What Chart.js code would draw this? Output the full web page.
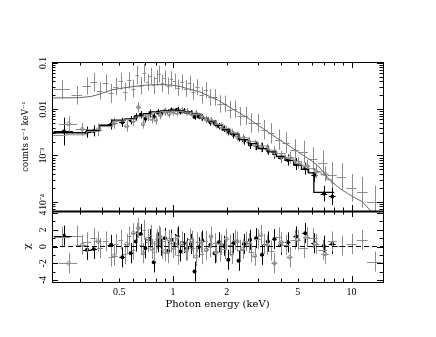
<!DOCTYPE html>
<html>
<head>
<meta charset="utf-8">
<script src="https://cdn.jsdelivr.net/npm/chart.js@4.4.1/dist/chart.umd.min.js"></script>
<style>
html, body { margin: 0; padding: 0; background: #fff; }
#wrap { position: relative; width: 436px; height: 337px; }
#wrap canvas { position: absolute; left: 0; top: 0; }
</style>
</head>
<body>
<div id="wrap">
  <canvas id="specChart" width="436" height="337"></canvas>
  <canvas id="residChart" width="436" height="337"></canvas>
</div>
<script>
// energy range (keV)
const xMin = 0.21, xMax = 15;

// upper spectrum (grey crosses)
const upE = [0.24,0.29,0.33,0.36,0.39,0.42,0.45,0.48,0.51,0.54,0.57,0.60,0.63,0.66,0.69,0.72,0.75,0.78,0.81,0.84,0.87,0.90,0.94,0.98,1.02,1.07,1.12,1.18,1.24,1.30,1.37,1.45,1.53,1.62,1.72,1.83,1.95,2.08,2.22,2.38,2.55,2.75,2.98,3.25,3.55,3.9,4.3,4.8,5.4,6.1,6.9,7.8,8.8,10.0,11.5,13.5];
const upFlux = [0.027,0.020,0.032,0.038,0.025,0.036,0.022,0.031,0.040,0.024,0.042,0.028,0.055,0.032,0.060,0.038,0.052,0.033,0.048,0.058,0.036,0.047,0.032,0.045,0.040,0.029,0.038,0.028,0.036,0.024,0.030,0.020,0.026,0.018,0.018,0.013,0.013,0.0098,0.010,0.0070,0.0072,0.0050,0.0050,0.0036,0.0030,0.0022,0.0019,0.0013,0.0012,0.00085,0.0007,0.00038,0.00035,0.0002,0.00016,0.0001];
const upDE = [0.025,0.02,0.018,0.015,0.015,0.015,0.015,0.015,0.015,0.015,0.015,0.015,0.015,0.015,0.015,0.015,0.015,0.015,0.015,0.015,0.015,0.018,0.02,0.02,0.022,0.025,0.027,0.03,0.03,0.033,0.035,0.04,0.042,0.045,0.05,0.055,0.06,0.065,0.07,0.08,0.085,0.1,0.12,0.13,0.15,0.17,0.2,0.25,0.3,0.35,0.4,0.45,0.5,0.65,0.8,1.3];
const upDex = [0.2,0.2,0.19,0.2,0.19,0.2,0.21,0.19,0.18,0.2,0.18,0.19,0.2,0.19,0.2,0.18,0.18,0.19,0.17,0.18,0.19,0.17,0.18,0.17,0.17,0.18,0.17,0.18,0.17,0.18,0.17,0.18,0.17,0.18,0.18,0.19,0.18,0.19,0.19,0.2,0.2,0.21,0.2,0.21,0.22,0.22,0.23,0.24,0.24,0.25,0.26,0.28,0.29,0.3,0.33,0.35];
const upChi = [1.1,1.3,0.5,1.0,-0.2,0.6,-1.2,0.3,0.8,-0.9,1.2,-0.4,1.6,0.2,2.0,0.5,1.4,-0.6,0.9,1.3,-0.3,0.7,-0.8,0.4,0.1,-1.0,0.6,-0.5,0.9,-0.2,0.5,-0.9,0.7,-0.1,0.4,-0.6,-0.3,0.2,0.8,-0.4,0.6,-0.7,0.9,0.3,-0.5,1.1,0.2,0.8,-0.2,1.0,-0.4,0.6,0.1,0.3,0.8,-1.8];

// lower spectrum, black dots
const lbE = [0.245,0.33,0.36,0.45,0.52,0.58,0.62,0.66,0.70,0.74,0.78,0.82,0.86,0.90,0.94,0.98,1.02,1.06,1.10,1.15,1.20,1.26,1.32,1.39,1.46,1.54,1.62,1.71,1.81,1.92,2.04,2.18,2.33,2.5,2.7,2.92,3.15,3.4,3.7,4.0,4.4,4.9,5.5,6.2,7.0,7.8];
const lbFlux = [0.0033,0.0032,0.0034,0.0047,0.0052,0.0058,0.0068,0.0076,0.0062,0.0082,0.0070,0.0085,0.0080,0.0090,0.0086,0.0095,0.0090,0.0098,0.0088,0.0092,0.0085,0.0083,0.0068,0.0070,0.0066,0.0060,0.0052,0.0049,0.0043,0.0038,0.0033,0.0028,0.0024,0.0021,0.0017,0.0016,0.0015,0.0013,0.0011,0.0009,0.0008,0.00065,0.00052,0.00038,0.00015,0.00013];
const lbDE = [0.03,0.02,0.015,0.02,0.02,0.015,0.012,0.012,0.012,0.012,0.012,0.012,0.012,0.012,0.012,0.012,0.012,0.012,0.015,0.015,0.015,0.018,0.02,0.02,0.02,0.025,0.025,0.03,0.03,0.035,0.04,0.045,0.05,0.06,0.06,0.07,0.08,0.09,0.1,0.12,0.15,0.18,0.2,0.25,0.3,0.35];
const lbDex = [0.3,0.12,0.12,0.11,0.1,0.09,0.08,0.08,0.08,0.08,0.07,0.07,0.07,0.07,0.06,0.06,0.06,0.06,0.06,0.06,0.06,0.06,0.06,0.06,0.07,0.07,0.07,0.07,0.07,0.07,0.08,0.08,0.08,0.09,0.09,0.09,0.1,0.1,0.11,0.11,0.12,0.13,0.13,0.15,0.17,0.19];
const lbChi = [1.3,-0.4,-0.3,0.2,-1.3,-0.8,0.6,1.5,-0.2,0.9,-1.9,0.5,0.1,1.0,-0.5,0.8,0.3,1.2,-0.6,0.4,-0.2,0.3,-3.0,-0.1,0.7,-0.4,0.2,-0.8,0.5,0.1,-1.6,0.4,-1.7,0.3,0.8,1.0,-1.0,0.6,0.9,0.2,0.5,1.2,1.6,0.4,0.1,0.3];

// lower spectrum, grey circles
const lgE = [0.26,0.31,0.38,0.47,0.55,0.60,0.64,0.68,0.72,0.76,0.80,0.85,0.90,0.95,1.00,1.05,1.12,1.19,1.27,1.35,1.44,1.53,1.63,1.74,1.86,1.99,2.13,2.29,2.46,2.65,2.87,3.1,3.38,3.7,4.05,4.5,5.0,5.6,6.3,7.1];
const lgFlux = [0.0048,0.0037,0.0036,0.0050,0.0043,0.0056,0.0110,0.0048,0.0070,0.0062,0.0058,0.0074,0.0086,0.0079,0.0088,0.0084,0.0095,0.0090,0.0079,0.0081,0.0068,0.0061,0.0057,0.0047,0.0042,0.0036,0.0031,0.0026,0.0023,0.0020,0.0017,0.0015,0.0014,0.0012,0.00095,0.0009,0.0007,0.00058,0.00045,0.0004];
const lgDE = [0.03,0.025,0.02,0.02,0.02,0.015,0.015,0.015,0.015,0.015,0.015,0.017,0.018,0.02,0.02,0.022,0.025,0.028,0.03,0.03,0.035,0.035,0.04,0.045,0.05,0.055,0.06,0.065,0.07,0.08,0.09,0.1,0.12,0.14,0.16,0.18,0.2,0.25,0.3,0.35];
const lgDex = [0.17,0.14,0.14,0.12,0.12,0.11,0.11,0.1,0.1,0.1,0.09,0.09,0.08,0.08,0.08,0.08,0.08,0.08,0.08,0.08,0.08,0.08,0.08,0.09,0.09,0.09,0.09,0.1,0.1,0.1,0.11,0.11,0.11,0.12,0.12,0.13,0.13,0.14,0.15,0.16];
const lgChi = [-2.0,0.2,0.6,-1.1,0.3,1.6,2.2,-0.8,0.9,-0.3,0.4,1.1,-0.6,0.8,-0.2,1.0,0.3,-0.5,0.7,-1.2,0.5,-0.4,1.2,-0.7,0.2,0.9,-0.9,0.6,-0.3,0.4,-1.1,1.4,0.2,-2.0,0.5,-1.3,0.8,1.1,0.3,-0.9];
const chiErr = 1.2;

// folded models
const upModelE = [0.21,0.3,0.35,0.4,0.45,0.5,0.6,0.7,0.8,0.9,1.0,1.1,1.2,1.4,1.6,1.8,2.0,2.3,2.6,3.0,3.5,4.0,4.5,5.0,5.5,6.0,6.5,7.0,7.5,8.5,9.5,10.5,11.5,12.5,14];
const upModelF = [0.0175,0.0178,0.019,0.022,0.026,0.028,0.031,0.033,0.034,0.034,0.033,0.031,0.028,0.024,0.019,0.0155,0.012,0.0088,0.0066,0.0045,0.003,0.0021,0.0016,0.0012,0.00095,0.00075,0.0006,0.00042,0.0003,0.0002,0.00015,0.00012,0.0001,0.00007,0.00004];
const lbModelE = [0.21,0.3,0.36,0.42,0.5,0.58,0.65,0.72,0.8,0.9,1.0,1.1,1.2,1.35,1.5,1.65,1.8,2.0,2.2,2.5,2.8,3.2,3.6,4.0,4.5,5.0,5.5,6.0,6.3,7.0,8.0];
const lbModelF = [0.0031,0.0031,0.0035,0.0045,0.0058,0.0062,0.0072,0.008,0.0088,0.0092,0.0094,0.0093,0.0088,0.0078,0.0066,0.0055,0.0045,0.0036,0.0029,0.0022,0.0018,0.0014,0.0012,0.00095,0.00078,0.00062,0.0005,0.00042,0.00016,0.00016,0.00016];
const lgModelE = [0.21,0.3,0.36,0.42,0.5,0.58,0.65,0.72,0.8,0.9,1.0,1.1,1.2,1.35,1.5,1.65,1.8,2.0,2.2,2.5,2.8,3.2,3.6,4.0,4.5,5.0,5.5,6.0,6.5,7.0,7.5,8.0];
const lgModelF = [0.0027,0.0028,0.0033,0.0042,0.0055,0.006,0.0068,0.0076,0.0084,0.0089,0.0091,0.009,0.0086,0.0077,0.0066,0.0056,0.0047,0.0038,0.0031,0.0024,0.002,0.0016,0.0013,0.0011,0.0009,0.00075,0.00062,0.00052,0.00045,0.00038,0.0003,0.00025];

// axis labels
const xTickLabels = [0.5, 1, 2, 5, 10];
const specTickLabels = [[0.1, '0.1'], [0.01, '0.01'], [1e-3, '10\u207B\u00B3'], [1e-4, '10\u207B\u2074']];
const chiTickLabels = [[4, '4'], [2, '2'], [0, '0'], [-2, '-2'], [-4, '-4']];

const GREY = '#8c8c8c';
const tickFont = '9.5px "Liberation Serif"';

function pts(xs, ys) { return xs.map((x, i) => ({ x: x, y: ys[i] })); }

// log-axis tick positions (1..9 x 10^n) inside a range
function logTickVals(lo, hi) {
  const out = [];
  for (let e = Math.floor(Math.log10(lo)); e <= Math.ceil(Math.log10(hi)); e++) {
    for (let m = 1; m < 10; m++) {
      const v = m * Math.pow(10, e);
      if (v >= lo && v <= hi) out.push([v, m === 1]);
    }
  }
  return out;
}

// error bars drawn with each dataset's own scales
const errorBars = {
  id: 'errorBars',
  afterDatasetDraw(chart, args) {
    const ds = chart.data.datasets[args.index];
    if (!ds.errX) return;
    const xs = chart.scales.x, ys = chart.scales.y, a = chart.chartArea, ctx = chart.ctx;
    ctx.save();
    ctx.beginPath();
    ctx.rect(a.left, a.top, a.right - a.left, a.bottom - a.top);
    ctx.clip();
    ctx.strokeStyle = ds.borderColor;
    ctx.lineWidth = 1;
    ctx.beginPath();
    ds.data.forEach((p, i) => {
      const px = Math.round(xs.getPixelForValue(p.x)) + 0.5;
      const py = Math.round(ys.getPixelForValue(p.y)) + 0.5;
      const x0 = xs.getPixelForValue(p.x - ds.errX[i]);
      const x1 = xs.getPixelForValue(p.x + ds.errX[i]);
      let y0, y1;
      if (ds.errDex) {
        y0 = ys.getPixelForValue(p.y / Math.pow(10, ds.errDex[i]));
        y1 = ys.getPixelForValue(p.y * Math.pow(10, ds.errDex[i]));
      } else {
        y0 = ys.getPixelForValue(p.y - chiErr);
        y1 = ys.getPixelForValue(p.y + chiErr);
      }
      ctx.moveTo(x0, py); ctx.lineTo(x1, py);
      ctx.moveTo(px, y0); ctx.lineTo(px, y1);
    });
    ctx.stroke();
    ctx.restore();
  }
};

// box, inward ticks on all four sides, rotated y labels
function frameAxes(yTicks, yLabels, thickBottom) {
  return {
    id: 'frameAxes',
    afterDraw(chart) {
      const {ctx, chartArea: a} = chart;
      const xs = chart.scales.x, ys = chart.scales.y;
      ctx.save();
      ctx.strokeStyle = '#000';
      ctx.lineWidth = 1;
      ctx.strokeRect(a.left + 0.5, a.top + 0.5, a.right - a.left, a.bottom - a.top);
      if (thickBottom) {
        ctx.lineWidth = 2;
        ctx.beginPath();
        ctx.moveTo(a.left, a.bottom + 0.5); ctx.lineTo(a.right + 1, a.bottom + 0.5);
        ctx.stroke();
        ctx.lineWidth = 1;
      }
      ctx.beginPath();
      logTickVals(xMin, xMax).forEach(([v, major]) => {
        const px = Math.round(xs.getPixelForValue(v)) + 0.5;
        const len = major ? 6 : 3.5;
        ctx.moveTo(px, a.top); ctx.lineTo(px, a.top + len);
        ctx.moveTo(px, a.bottom); ctx.lineTo(px, a.bottom - len);
      });
      yTicks.forEach(([v, major]) => {
        const py = Math.round(ys.getPixelForValue(v)) + 0.5;
        const len = major ? 6 : 3.5;
        ctx.moveTo(a.left, py); ctx.lineTo(a.left + len, py);
        ctx.moveTo(a.right, py); ctx.lineTo(a.right - len, py);
      });
      ctx.stroke();
      ctx.fillStyle = '#000';
      ctx.font = tickFont;
      ctx.textAlign = 'center';
      ctx.textBaseline = 'middle';
      yLabels.forEach(([v, txt]) => {
        ctx.save();
        ctx.translate(a.left - 9, ys.getPixelForValue(v));
        ctx.rotate(-Math.PI / 2);
        ctx.fillText(txt, 0, 0);
        ctx.restore();
      });
      ctx.restore();
    }
  };
}

function dataSets(fluxOrChi) {
  const sets = [];
  const up = fluxOrChi === 'flux';
  sets.push({ type: 'scatter', data: pts(upE, up ? upFlux : upChi), borderColor: GREY, pointRadius: 0,
    errX: upDE, errDex: up ? upDex : null });
  sets.push({ type: 'scatter', data: pts(lgE, up ? lgFlux : lgChi), borderColor: GREY, backgroundColor: '#fff',
    pointRadius: 1.8, pointBorderWidth: 1, errX: lgDE, errDex: up ? lgDex : null });
  sets.push({ type: 'scatter', data: pts(lbE, up ? lbFlux : lbChi), borderColor: '#000', backgroundColor: '#000',
    pointRadius: 2, pointBorderWidth: 0, errX: lbDE, errDex: up ? lbDex : null });
  return sets;
}

Chart.defaults.font.family = '"DejaVu Serif", serif';
Chart.defaults.color = '#000';

const specDatasets = [
  { type: 'line', data: pts(upModelE, upModelF), borderColor: '#666', borderWidth: 1, pointRadius: 0, tension: 0 },
  { type: 'line', data: pts(lgModelE, lgModelF), borderColor: GREY, borderWidth: 1, pointRadius: 0, stepped: 'middle' },
  { type: 'line', data: pts(lbModelE, lbModelF), borderColor: '#000', borderWidth: 1.3, pointRadius: 0, stepped: 'middle' }
].concat(dataSets('flux'));

new Chart(document.getElementById('specChart'), {
  data: { datasets: specDatasets },
  options: {
    responsive: false,
    animation: false,
    events: [],
    layout: { padding: { left: 0, top: 62, right: 53, bottom: 126 } },
    plugins: { legend: { display: false }, tooltip: { enabled: false } },
    scales: {
      x: { type: 'logarithmic', min: xMin, max: xMax, display: false },
      y: {
        type: 'logarithmic', min: 6.3e-5, max: 0.105,
        ticks: { display: false },
        grid: { display: false, drawTicks: false },
        border: { display: false },
        title: { display: true, text: 'counts s\u207B\u00B9 keV\u207B\u00B9', font: { size: 8.5 }, padding: { top: 21, bottom: 0 } },
        afterFit(s) { s.width = 52; }
      }
    }
  },
  plugins: [errorBars, frameAxes(logTickVals(6.3e-5, 0.105), specTickLabels, true)]
});

const chiTicks = [-4, -3, -2, -1, 0, 1, 2, 3, 4].map(v => [v, v % 2 === 0]);

new Chart(document.getElementById('residChart'), {
  data: {
    datasets: [
      { type: 'line', data: pts([xMin, xMax], [0, 0]), borderColor: '#000', borderWidth: 1, borderDash: [5, 3], pointRadius: 0 }
    ].concat(dataSets('chi'))
  },
  options: {
    responsive: false,
    animation: false,
    events: [],
    layout: { padding: { left: 0, top: 211, right: 53, bottom: 0 } },
    plugins: { legend: { display: false }, tooltip: { enabled: false } },
    scales: {
      x: {
        type: 'logarithmic', min: xMin, max: xMax,
        afterBuildTicks(s) { s.ticks = xTickLabels.map(v => ({ value: v })); },
        ticks: { autoSkip: false, maxRotation: 0, padding: 4, font: { family: '"Liberation Serif"', size: 10 }, callback: v => String(v) },
        grid: { display: false, drawTicks: false },
        border: { display: false },
        title: { display: true, text: 'Photon energy (keV)', font: { size: 10 }, padding: { top: 0, bottom: 27 } },
        afterFit(s) { s.height = 55; }
      },
      y: {
        type: 'linear', min: -4.25, max: 4.25,
        ticks: { display: false },
        grid: { display: false, drawTicks: false },
        border: { display: false },
        title: { display: true, text: '\u03C7', font: { size: 10 }, padding: { top: 21, bottom: 0 } },
        afterFit(s) { s.width = 52; }
      }
    }
  },
  plugins: [errorBars, frameAxes(chiTicks, chiTickLabels, false)]
});
</script>
</body>
</html>
